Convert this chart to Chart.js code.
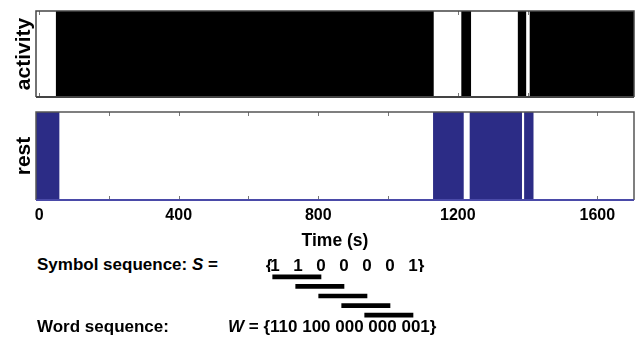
<!DOCTYPE html>
<html><head><meta charset="utf-8">
<script src="https://cdn.jsdelivr.net/npm/chart.js@4/dist/chart.umd.min.js"></script>
<style>
html,body{margin:0;padding:0;background:#fff;}
body{width:639px;height:350px;position:relative;overflow:hidden;font-family:"Liberation Sans",Arial,sans-serif;font-weight:bold;color:#000;}
.c{position:absolute;}
.t{position:absolute;white-space:pre;font-size:17px;line-height:20px;}
canvas{display:block;}
</style></head><body>
<div class="c" style="left:0;top:0"><canvas id="top" width="639" height="100"></canvas></div>
<div class="c" style="left:0;top:100px"><canvas id="bot" width="639" height="154"></canvas></div>
<div class="c" style="left:234px;top:246px"><canvas id="win" width="212" height="74"></canvas></div>
<div class="t" style="left:37px;top:255px">Symbol sequence: <i>S</i> =</div>
<div class="t" style="left:37px;top:317px">Word sequence:</div>
<div class="t" id="wordText" style="left:228px;top:317px"></div>
<script>
// ---- data ----
const T_START = -9;            // left edge of recording axis (s)
const T_END = 1705;            // right edge of recording axis (s)
const activityIntervals = [[49, 1130], [1211, 1237], [1373, 1395], [1407, 1705]];
const restIntervals = [[-9, 57], [1130, 1216], [1235, 1383], [1391, 1416]];
const xTickLabels = [0, 400, 800, 1200, 1600];
const xTickMarks = [0, 200, 400, 600, 800, 1000, 1200, 1400, 1600];
const symbols = ['1', '1', '0', '0', '0', '0', '1'];
const windowStarts = [0, 1, 2, 3, 4];
const wordLength = 3;
const words = ['110', '100', '000', '000', '001'];

const FAM = "'Liberation Sans', Arial, Helvetica, sans-serif";
Chart.defaults.font.family = FAM;
Chart.defaults.color = '#000';
const BLUE = '#2c2c86';

function panelPlugin(borderColor, bottomColor) {
  return {
    id: 'panel',
    beforeDatasetsDraw(chart) {
      const {ctx, chartArea: a, scales: {x}} = chart;
      ctx.save();
      ctx.strokeStyle = '#777';
      ctx.lineWidth = 1;
      xTickMarks.forEach(v => {
        const px = Math.round(x.getPixelForValue(v)) + 0.5;
        ctx.beginPath();
        ctx.moveTo(px, a.top); ctx.lineTo(px, a.top + 4);
        ctx.moveTo(px, a.bottom); ctx.lineTo(px, a.bottom - 4);
        ctx.stroke();
      });
      ctx.restore();
    },
    afterDatasetsDraw(chart) {
      const {ctx, chartArea: a} = chart;
      ctx.save();
      ctx.lineWidth = 1.5;
      ctx.strokeStyle = borderColor;
      ctx.beginPath();
      ctx.moveTo(a.left, a.bottom); ctx.lineTo(a.left, a.top);
      ctx.lineTo(a.right, a.top); ctx.lineTo(a.right, a.bottom);
      ctx.stroke();
      ctx.strokeStyle = bottomColor;
      ctx.lineWidth = 2;
      ctx.beginPath();
      ctx.moveTo(a.left, a.bottom); ctx.lineTo(a.right, a.bottom);
      ctx.stroke();
      ctx.restore();
    }
  };
}

function panelChart(id, label, intervals, color, showX, border, bottomBorder, padTop, padBottom) {
  return new Chart(document.getElementById(id), {
    type: 'bar',
    data: {
      datasets: [{
        data: intervals.map(iv => ({y: label, x: iv})),
        backgroundColor: color,
        borderWidth: 0,
        barPercentage: 1,
        categoryPercentage: 1
      }]
    },
    options: {
      indexAxis: 'y',
      responsive: false,
      animation: false,
      events: [],
      layout: {padding: {top: padTop, bottom: padBottom, left: 0, right: 5}},
      plugins: {legend: {display: false}, tooltip: {enabled: false}},
      scales: {
        x: {
          type: 'linear', min: T_START, max: T_END,
          display: showX,
          afterBuildTicks: a => { a.ticks = xTickLabels.map(v => ({value: v})); },
          ticks: {font: {size: 16, weight: 'bold'}, color: '#000', padding: -2, maxRotation: 0, autoSkip: false,
                  callback: v => String(v)},
          grid: {display: false},
          border: {display: false},
          title: {display: true, text: 'Time (s)', color: '#000',
                  font: {size: 17.5, weight: 'bold'}, padding: {top: 0, bottom: 2}},
          afterFit: a => { if (showX) a.height = 54; }
        },
        y: {
          type: 'category', labels: [label], offset: true,
          ticks: {display: false},
          grid: {display: false},
          border: {display: false},
          title: {display: true, text: label, color: '#000',
                  font: {size: 21, weight: 'bold'}, padding: {top: 12, bottom: 0}},
          afterFit: a => { a.width = 36; }
        }
      }
    },
    plugins: [panelPlugin(border, bottomBorder)]
  });
}

panelChart('top', 'activity', activityIntervals, '#000', false, '#444', '#444', 11, 3);
panelChart('bot', 'rest', restIntervals, BLUE, true, '#555', '#4a4aa8', 12, 0);

// symbol sequence (top axis labels) and sliding word windows (bars)
new Chart(document.getElementById('win'), {
  type: 'bar',
  data: {
    labels: windowStarts.map(String),
    datasets: [{
      data: windowStarts.map(s => [s - 0.1, s + wordLength - 1]),
      backgroundColor: '#000',
      borderWidth: 0,
      barThickness: 4
    }]
  },
  options: {
    indexAxis: 'y',
    responsive: false,
    animation: false,
    events: [],
    layout: {padding: {top: 0, bottom: 0, left: 18, right: 10}},
    plugins: {legend: {display: false}, tooltip: {enabled: false}},
    scales: {
      x: {
        type: 'linear', position: 'top', min: -1, max: 7,
        afterBuildTicks: a => {
          a.ticks = [{value: -0.26}].concat(symbols.map((_, i) => ({value: i})), [{value: symbols.length - 0.65}]);
        },
        ticks: {
          font: {size: 17, weight: 'bold', lineHeight: 1}, color: '#000', padding: -11,
          maxRotation: 0, autoSkip: false,
          callback: (v, i, t) => i === 0 ? '{' : (i === t.length - 1 ? '}' : symbols[i - 1])
        },
        grid: {display: false},
        border: {display: false},
        afterFit: a => { a.height = 26; }
      },
      y: {display: false, offset: true}
    }
  }
});

document.getElementById('wordText').innerHTML =
  '<i>W</i> = {' + words.join(' ') + '}';
</script>
</body></html>
